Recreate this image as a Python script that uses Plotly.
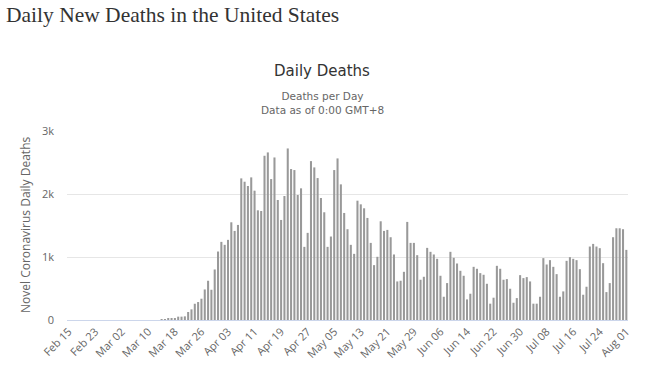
import datetime as dt
import plotly.graph_objects as go

start = dt.date(2020, 2, 15)
early = [0, 0, 0, 0, 0, 0, 0, 0, 0, 0, 0, 0, 0, 0, 0, 0, 0, 0, 0, 0, 0, 0, 0, 0, 0, 0, 0, 0, 8, 11]
mar16_to_apr15 = [16, 16, 26, 53, 53, 58, 127, 169, 258, 285, 338, 485, 623, 480, 802, 1087,
                  1240, 1193, 1272, 1551, 1414, 1509, 2248, 2195, 2127, 2264, 2053, 1741, 1730, 2607, 2660]
apr16_to_may21 = [2237, 2580, 1905, 1588, 1968, 2723, 2396, 2380, 1984, 2090, 1161, 1383, 2522, 2422, 2253,
                  1937, 1710, 1161, 1325, 2380, 2565, 2153, 1699, 1441, 1193, 1050, 1894, 1836, 1773, 1620,
                  1224, 871, 1003, 1567, 1414, 1430]
may22_to_jun26 = [1314, 1040, 612, 623, 765, 1557, 1224, 1224, 1029, 639, 686, 1145, 1082, 1040, 971, 702,
                  369, 586, 1082, 987, 897, 781, 702, 327, 417, 844, 813, 744, 718, 575, 259, 354, 860, 813,
                  639, 649]
jun27_to_aug01 = [496, 274, 348, 712, 665, 681, 612, 259, 259, 369, 982, 881, 950, 844, 728, 369, 454, 939,
                  997, 971, 950, 807, 401, 528, 1166, 1208, 1166, 1140, 902, 443, 586, 1314, 1456, 1456,
                  1441, 1113]

deaths = early + mar16_to_apr15 + apr16_to_may21 + may22_to_jun26 + jun27_to_aug01
dates = [(start + dt.timedelta(days=i)).strftime("%b %d") for i in range(len(deaths))]
tick_labels = dates[::8]

y_ticks = [0, 1000, 2000, 3000]
y_tick_text = ["0", "1k", "2k", "3k"]

W, H = 662, 367
L, R, T, B = 67, 34, 131, 47

fig = go.Figure(go.Bar(x=dates, y=deaths, marker=dict(color="#999999", line=dict(width=0))))

fig.update_layout(
    width=W, height=H,
    margin=dict(l=L, r=R, t=T, b=B),
    paper_bgcolor="white", plot_bgcolor="white",
    bargap=0.38,
    showlegend=False,
    font=dict(family="Open Sans", color="#666666", size=11),
    xaxis=dict(type="category", tickmode="array", tickvals=tick_labels, ticktext=tick_labels,
               tickangle=-45, showgrid=False, showline=True, linecolor="#ccd6eb", linewidth=1,
               ticks="", automargin=False, tickfont=dict(size=11, color="#666666")),
    yaxis=dict(range=[0, 3000], tickvals=y_ticks, ticktext=y_tick_text, showgrid=True,
               gridcolor="#e6e6e6", zeroline=False, showline=False, ticks="", automargin=False,
               ticklabelstandoff=12, tickfont=dict(size=11, color="#666666")),
)


def px_x(x):
    return (x - L) / (W - L - R)


def px_y(y):
    return (H - y - B) / (H - T - B)


fig.add_annotation(text="Daily New Deaths in the United States", x=px_x(4), y=px_y(1),
                   xref="paper", yref="paper", showarrow=False, xanchor="left", yanchor="top",
                   font=dict(family="Liberation Serif", size=21.5, color="#333333"))
fig.add_annotation(text="Daily Deaths", x=px_x(322), y=px_y(60), xref="paper", yref="paper",
                   showarrow=False, xanchor="center", yanchor="top",
                   font=dict(family="DejaVu Sans", size=15, color="#333333"))
fig.add_annotation(text="Deaths per Day<br>Data as of 0:00 GMT+8", x=px_x(322), y=px_y(88),
                   xref="paper", yref="paper", showarrow=False, xanchor="center", yanchor="top",
                   font=dict(family="DejaVu Sans", size=10.5, color="#666666"))
fig.add_annotation(text="Novel Coronavirus Daily Deaths", x=px_x(25), y=px_y(225), xref="paper",
                   yref="paper", showarrow=False, textangle=-90, xanchor="center", yanchor="middle",
                   font=dict(family="Open Sans", size=12, color="#666666"))

# remove the default 8px body margin so the figure sits at the window's top-left corner
fig.write_html("out.html", config={"displayModeBar": False},
               post_script="document.body.style.margin='0';")
